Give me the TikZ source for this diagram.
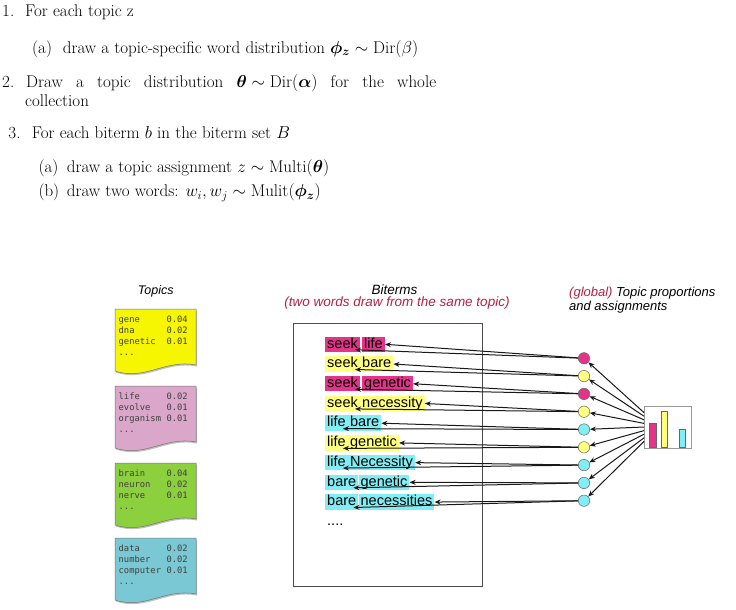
\documentclass[tikz,border=0pt]{standalone}
\usepackage{fontspec}
\usepackage{amsmath}
\usepackage{bm}
\usepackage{tikz}
\usetikzlibrary{positioning,arrows.meta,shadows}
\newfontfamily\arialfont{Liberation Sans}
\newfontfamily\cardfont{DejaVu Sans Mono}
\definecolor{hlpink}{RGB}{228,52,138}
\definecolor{hlyellow}{RGB}{255,255,128}
\definecolor{hlcyan}{RGB}{128,238,244}
\definecolor{cardyellow}{RGB}{246,246,0}
\definecolor{cardpink}{RGB}{218,166,202}
\definecolor{cardgreen}{RGB}{140,208,62}
\definecolor{cardcyan}{RGB}{122,200,212}
\definecolor{titlered}{RGB}{175,35,70}
\tikzset{listtext/.style={anchor=base west, inner sep=0pt, font=\fontsize{17}{20}\selectfont}}
\tikzset{caption/.style={inner sep=0pt, font=\arialfont\itshape\fontsize{13.5}{13.5}\selectfont}}
\tikzset{card/.style={draw=black!55, line width=0.5pt,
  drop shadow={shadow xshift=1pt, shadow yshift=-1.5pt, opacity=0.25, fill=black}}}
\tikzset{cardtext/.style={anchor=north west, inner sep=0pt, text width=69pt, align=left,
  text=black!75, font=\cardfont\fontsize{8.8}{11}\selectfont}}
\tikzset{word/.style={inner xsep=2pt, inner ysep=1pt, text height=10.5pt, text depth=3pt,
  font=\arialfont\fontsize{14.5}{17}\selectfont}}
\tikzset{topicdot/.style={circle, draw=black!60, line width=0.5pt, minimum size=11.4pt, inner sep=0pt}}
\tikzset{bar/.style={draw=black!60, line width=0.5pt}}
\tikzset{link/.style={-{Stealth[length=6pt,width=5pt]}, line width=1pt, black!90}}
% one topic card: name, top-left corner, colour, lines
\newcommand{\topiccard}[4]{%
  \begin{scope}[shift={#2}]
    \draw[card, fill=#3] (0,0) -- (81,0) -- (81,56) .. controls (50,50) and (30,72) .. (0,62) -- cycle;
    \node[cardtext] (#1) at (3.5,7) {#4};
  \end{scope}}

\begin{document}
\begin{tikzpicture}[x=1pt,y=-1pt]
  \useasboundingbox (0,0) rectangle (736,610);

  % generative process
  \node[listtext] (n1) at (2,16.7) {1.};
  \node[listtext] (t1) at (25,16.7) {For each topic z};
  \node[listtext] (n1a) at (32,53.3) {(a)};
  \node[listtext] (t1a) at (62.7,53.3) {draw a topic-specific word distribution $\bm{\phi}_{\bm{z}}\sim\mathrm{Dir}(\beta)$};
  \node[listtext] (n2) at (2,87.3) {2.};
  \node[listtext] (t2) at (26,87.3) {\makebox[410pt][s]{Draw a topic distribution \mbox{$\bm{\theta}\sim\mathrm{Dir}(\bm{\alpha})$} for the whole}};
  \node[listtext] (t2b) at (25,106) {collection};
  \node[listtext] (n3) at (8.3,138.3) {3.};
  \node[listtext] (t3) at (31.7,138.3) {For each biterm $b$ in the biterm set $B$};
  \node[listtext] (n3a) at (38.3,172.7) {(a)};
  \node[listtext] (t3a) at (66.7,172.7) {draw a topic assignment $z\sim\mathrm{Multi}(\bm{\theta})$};
  \node[listtext] (n3b) at (38.3,196.7) {(b)};
  \node[listtext] (t3b) at (66.7,196.7) {draw two words: $w_i,w_j\sim\mathrm{Mulit}(\bm{\phi}_{\bm{z}})$};

  % topics
  \node[caption, font=\arialfont\itshape\fontsize{12.5}{13}\selectfont] (topics) at (155.7,291) {Topics};
  \topiccard{genes}{(115,309)}{cardyellow}{gene\hfill 0.04\\dna\hfill 0.02\\genetic\hfill 0.01\\...}
  \topiccard{life}{(115,386)}{cardpink}{life\hfill 0.02\\evolve\hfill 0.01\\organism\hfill 0.01\\...}
  \topiccard{brain}{(115,463)}{cardgreen}{brain\hfill 0.04\\neuron\hfill 0.02\\nerve\hfill 0.01\\...}
  \topiccard{data}{(115,538)}{cardcyan}{data\hfill 0.02\\number\hfill 0.02\\computer\hfill 0.01\\...}

  % biterms
  \node[caption] (biterms) at (394.5,290) {Biterms};
  \node[caption, text=titlered] (bitermnote) at (397,303.3) {(two words draw from the same topic)};
  \node[draw=black!70, line width=0.9pt, minimum width=189pt, minimum height=263pt,
    anchor=north west, inner sep=0pt] (bitermbox) at (293,323) {};
  \node[word, anchor=west] (more) at (325,522) {....};

  % proportions
  \node[caption, font=\arialfont\itshape\fontsize{13}{13.5}\selectfont, anchor=north west, align=left] (proportions)
    at (569,287) {{\color{titlered}(global)} Topic proportions\\and assignments};
  \node[draw=black!40, line width=0.6pt, minimum width=47pt, minimum height=42pt,
    anchor=north west, inner sep=0pt] (chart) at (644,405.7) {};
  \draw[bar, fill=hlpink] (649.5,447.7) rectangle (656,423.3);
  \draw[bar, fill=hlyellow] (661,447.7) rectangle (667.3,411.5);
  \draw[bar, fill=hlcyan] (679.3,447.7) rectangle (685.5,429.3);

  \foreach \i/\wa/\wb/\col/\gap in {1/seek/life/hlpink/2pt, 2/seek/bare/hlyellow/0pt,
      3/seek/genetic/hlpink/2pt, 4/seek/necessity/hlyellow/0pt, 5/life/bare/hlcyan/0pt,
      6/life/genetic/hlyellow/0pt, 7/life/Necessity/hlcyan/0pt, 8/bare/genetic/hlcyan/0pt,
      9/bare/necessities/hlcyan/0pt}{
    \node[word, fill=\col, anchor=west] (wa\i) at (325,{344.3+19.72*(\i-1)}) {\wa};
    \node[word, fill=\col, right=\gap of wa\i] (wb\i) {\wb};
    \node[topicdot, fill=\col] (c\i) at (584,{358.3+17.8*(\i-1)}) {};
  }
  \foreach \i in {1,...,9}{
    \draw[link] (c\i) -- (wb\i.east);
    \draw[link] (c\i) -- ([xshift=-5pt,yshift=2.5pt]wa\i.south east);
    \draw[link] ([yshift={(5-\i)*3.6pt}]chart.west) -- (c\i);
  }
\end{tikzpicture}
\end{document}
